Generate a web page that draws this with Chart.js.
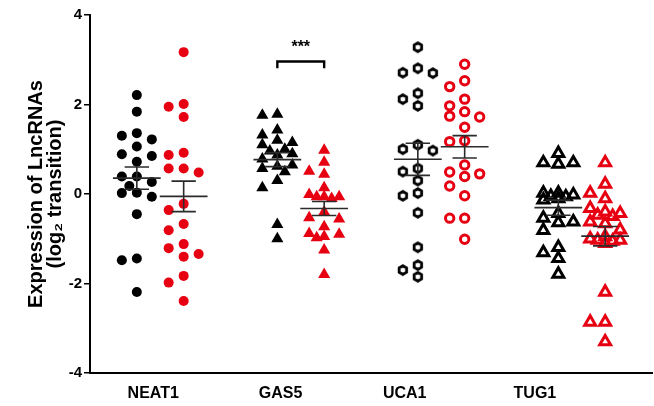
<!DOCTYPE html>
<html>
<head>
<meta charset="utf-8">
<script src="https://cdn.jsdelivr.net/npm/chart.js@4.4.0/dist/chart.umd.min.js"></script>
<style>
  html, body { margin: 0; padding: 0; background: #fff; }
  #wrap { width: 654px; height: 406px; }
</style>
</head>
<body>
<div id="wrap"><canvas id="chart"></canvas></div>
<script>
(function () {
  var CATEGORIES = ['NEAT1', 'GAS5', 'UCA1', 'TUG1'];
  var CATEGORY_TICKS = [1.35, 4.07, 6.72, 9.5];
  var Y_TICKS = [-4, -2, 0, 2, 4];

  // each category: black group then red group
  var NEAT1_BLACK = [2.21, 1.84, 1.36, 1.30, 1.22, 1.06, 0.89, 0.85, 0.72, 0.39, 0.39, 0.27, 0.18, 0.03, 0.02, -0.06, -0.45, -1.44, -1.48, -2.19];
  var NEAT1_RED   = [3.17, 2.01, 1.95, 1.72, 0.92, 0.87, 0.57, 0.57, 0.48, -0.22, -0.36, -0.67, -0.81, -1.12, -1.21, -1.34, -1.40, -1.83, -1.98, -2.39];
  var GAS5_BLACK  = [1.78, 1.76, 1.43, 1.32, 1.20, 1.15, 1.10, 1.00, 0.96, 0.90, 0.87, 0.78, 0.65, 0.62, 0.57, 0.50, 0.30, 0.14, -0.68, -1.00];
  var GAS5_RED    = [0.98, 0.71, 0.51, 0.44, 0.14, -0.01, -0.06, -0.06, -0.06, -0.10, -0.40, -0.53, -0.56, -0.73, -0.88, -0.90, -0.95, -0.98, -1.25, -1.80];
  var UCA1_BLACK  = [3.28, 2.81, 2.71, 2.70, 2.25, 2.12, 1.97, 1.10, 1.00, 0.97, 0.57, 0.50, 0.30, 0.02, -0.04, -0.42, -1.19, -1.59, -1.70, -1.85];
  var UCA1_RED    = [2.90, 2.53, 2.40, 2.12, 1.97, 1.84, 1.74, 1.72, 1.49, 1.19, 1.17, 0.65, 0.49, 0.45, 0.39, 0.18, -0.04, -0.54, -0.54, -1.01];
  var TUG1_BLACK  = [0.91, 0.70, 0.70, 0.67, 0.02, 0.02, -0.02, -0.05, -0.06, -0.10, -0.13, -0.43, -0.54, -0.62, -0.64, -0.81, -1.19, -1.31, -1.44, -1.79];
  var TUG1_RED    = [0.70, 0.22, 0.02, -0.10, -0.32, -0.40, -0.43, -0.47, -0.50, -0.62, -0.66, -0.80, -0.95, -1.00, -1.03, -1.03, -1.05, -1.10, -2.19, -2.86, -2.86, -3.30];

  var SIG_PAIR = [4, 5];   // GAS5 black vs red
  var SIG_TEXT = '***';

  var BLACK = '#000000';
  var RED = '#e60012';
  var BAR = '#2b2b2b';
  var FONT = "'Liberation Sans', Arial, sans-serif";

  var COL_STEP = 0.32;           // x units between swarm columns
  var X_PX = 46.7, Y_PX = 44.7;  // rough px per unit, only for spacing the swarm
  var MIN_GAP = 10;
  var MEAN_HALF = 0.51;
  var SEM_HALF = 0.26;

  function swarm(values, centre) {
    var placed = [];
    var slots = [0, -1, 1, -0.5, 0.5];
    return values.map(function (v) {
      var best = 0, bestD = -1;
      for (var k = 0; k < slots.length; k++) {
        var d = Infinity;
        placed.forEach(function (p) {
          var dx = (slots[k] - p.s) * COL_STEP * X_PX;
          var dy = (v - p.v) * Y_PX;
          d = Math.min(d, Math.sqrt(dx * dx + dy * dy));
        });
        if (d >= MIN_GAP) { best = slots[k]; break; }
        if (d > bestD) { bestD = d; best = slots[k]; }
      }
      placed.push({ v: v, s: best });
      return { x: centre + best * COL_STEP, y: v };
    });
  }

  function meanSem(values) {
    var n = values.length;
    var m = values.reduce(function (a, b) { return a + b; }, 0) / n;
    var ss = values.reduce(function (a, b) { return a + (b - m) * (b - m); }, 0);
    return { mean: m, sem: Math.sqrt(ss / (n - 1)) / Math.sqrt(n) };
  }

  function hexagon(r, lw, color) {
    var c = document.createElement('canvas');
    var s = Math.ceil(2 * r + lw + 2);
    c.width = s; c.height = s;
    var g = c.getContext('2d');
    g.beginPath();
    for (var i = 0; i < 6; i++) {
      var a = Math.PI / 6 + i * Math.PI / 3;
      var px = s / 2 + r * Math.cos(a), py = s / 2 + r * Math.sin(a);
      if (i === 0) g.moveTo(px, py); else g.lineTo(px, py);
    }
    g.closePath();
    g.lineWidth = lw;
    g.strokeStyle = color;
    g.stroke();
    return c;
  }

  var groups = [
    { values: NEAT1_BLACK, x: 1,  color: BLACK, style: 'circle',   fill: true,  r: 5 },
    { values: NEAT1_RED,   x: 2,  color: RED,   style: 'circle',   fill: true,  r: 5 },
    { values: GAS5_BLACK,  x: 4,  color: BLACK, style: 'triangle', fill: true,  r: 7 },
    { values: GAS5_RED,    x: 5,  color: RED,   style: 'triangle', fill: true,  r: 7 },
    { values: UCA1_BLACK,  x: 7,  color: BLACK, style: hexagon(4.3, 2.8, BLACK), fill: false, r: 5 },
    { values: UCA1_RED,    x: 8,  color: RED,   style: 'circle',   fill: false, r: 4.2 },
    { values: TUG1_BLACK,  x: 10, color: BLACK, style: 'triangle', fill: false, r: 6.3 },
    { values: TUG1_RED,    x: 11, color: RED,   style: 'triangle', fill: false, r: 6.3 }
  ];

  var datasets = [];
  groups.forEach(function (g) {
    datasets.push({
      type: 'scatter',
      data: swarm(g.values, g.x),
      pointStyle: g.style,
      pointRadius: g.r,
      pointBackgroundColor: g.fill ? g.color : 'rgba(0,0,0,0)',
      pointBorderColor: g.color,
      pointBorderWidth: g.fill ? 0 : 3,
      order: 1
    });
    var s = meanSem(g.values);
    var c = g.x, m = s.mean, e = s.sem;
    datasets.push({
      type: 'line',
      data: [
        { x: c - MEAN_HALF, y: m }, { x: c + MEAN_HALF, y: m }, { x: c, y: null },
        { x: c - SEM_HALF, y: m + e }, { x: c + SEM_HALF, y: m + e }, { x: c, y: null },
        { x: c - SEM_HALF, y: m - e }, { x: c + SEM_HALF, y: m - e }, { x: c, y: null },
        { x: c, y: m + e }, { x: c, y: m - e }
      ],
      borderColor: BAR,
      borderWidth: 1.6,
      pointRadius: 0,
      spanGaps: false,
      order: 0
    });
  });

  // significance bracket between GAS5 groups
  datasets.push({
    type: 'line',
    data: [
      { x: SIG_PAIR[0], y: 2.81 }, { x: SIG_PAIR[0], y: 2.96 },
      { x: SIG_PAIR[1], y: 2.96 }, { x: SIG_PAIR[1], y: 2.81 }
    ],
    borderColor: BLACK,
    borderWidth: 2.4,
    pointRadius: 0,
    order: 0
  });

  var sigPlugin = {
    id: 'sigText',
    afterDatasetsDraw: function (chart) {
      var c = chart.ctx;
      var x = chart.scales.x.getPixelForValue((SIG_PAIR[0] + SIG_PAIR[1]) / 2);
      var y = chart.scales.y.getPixelForValue(3.28);
      c.save();
      c.font = 'bold 16px ' + FONT;
      c.fillStyle = BLACK;
      c.textAlign = 'center';
      c.textBaseline = 'middle';
      c.fillText(SIG_TEXT, x, y);
      c.restore();
    }
  };

  new Chart(document.getElementById('chart'), {
    type: 'scatter',
    data: { datasets: datasets },
    options: {
      responsive: true,
      maintainAspectRatio: false,
      animation: false,
      layout: { autoPadding: false, padding: { left: 25, right: 2, top: 15, bottom: 0 } },
      plugins: { legend: { display: false }, tooltip: { enabled: false } },
      scales: {
        x: {
          type: 'linear',
          min: 0,
          max: 12,
          afterBuildTicks: function (scale) {
            scale.ticks = CATEGORY_TICKS.map(function (v) { return { value: v }; });
          },
          afterFit: function (scale) { scale.height = 33; },
          ticks: {
            autoSkip: false,
            maxRotation: 0,
            padding: 11,
            color: BLACK,
            font: { family: FONT, size: 16, weight: 'bold' },
            callback: function (v, i) { return CATEGORIES[i]; }
          },
          grid: { display: false, drawTicks: false },
          border: { display: true, color: BLACK, width: 2 }
        },
        y: {
          min: -4,
          max: 4,
          afterBuildTicks: function (scale) {
            scale.ticks = Y_TICKS.map(function (v) { return { value: v }; });
          },
          afterFit: function (scale) { scale.width = 90 - 25; },
          ticks: {
            padding: 2,
            color: BLACK,
            font: { family: FONT, size: 15, weight: 'bold' }
          },
          grid: { drawOnChartArea: false, drawTicks: true, tickLength: 6, color: BLACK, lineWidth: 1.5 },
          border: { display: true, color: BLACK, width: 2 },
          title: {
            display: true,
            text: ['Expression of LncRNAs', '(log\u2082 transition)'],
            color: BLACK,
            font: { family: FONT, size: 20, weight: 'bold', lineHeight: 0.95 },
            padding: { top: 2, bottom: 0 }
          }
        }
      }
    },
    plugins: [sigPlugin]
  });
})();
</script>
</body>
</html>
